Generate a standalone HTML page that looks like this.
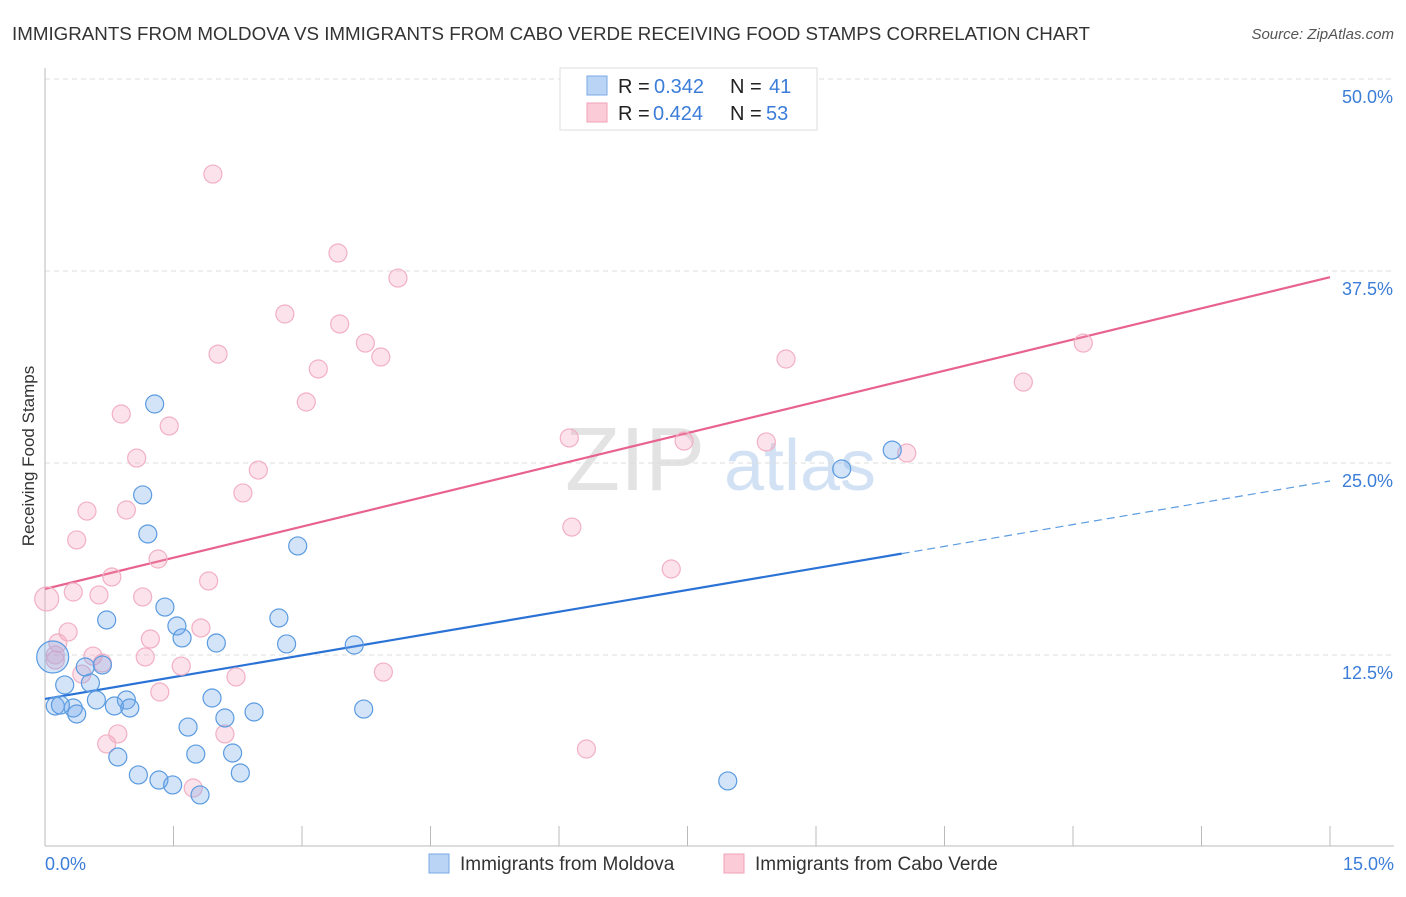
<!DOCTYPE html>
<html><head><meta charset="utf-8">
<style>
body{margin:0;background:#fff;font-family:"Liberation Sans",sans-serif;}
svg text{font-family:"Liberation Sans",sans-serif;}
</style></head>
<body>
<svg id="chart" width="1406" height="892" xmlns="http://www.w3.org/2000/svg">
<text x="12" y="40" font-size="18" fill="#333" textLength="1078" lengthAdjust="spacingAndGlyphs">IMMIGRANTS FROM MOLDOVA VS IMMIGRANTS FROM CABO VERDE RECEIVING FOOD STAMPS CORRELATION CHART</text>
<text x="1394" y="39" font-size="15" fill="#555" text-anchor="end" font-style="italic">Source: ZipAtlas.com</text>
<text transform="translate(34,456) rotate(-90)" font-size="17" fill="#333" text-anchor="middle">Receiving Food Stamps</text>
<g>
<text x="635" y="490" font-size="90" fill="#ddd" font-family="Liberation Serif" text-anchor="middle" opacity="0.8">ZIP</text>
<text x="800" y="490" font-size="72" fill="#c8dbf2" text-anchor="middle" opacity="0.8">atlas</text>
</g>
<g id="grid"></g>
<g id="axes"></g>
<g id="lines"></g>
<g id="points"></g>
<g>
<rect x="560" y="68" width="257" height="62" fill="#fff" stroke="#ddd"/>
<rect x="587" y="76" width="20" height="19" fill="#b9d4f5" stroke="#7aaae6"/>
<rect x="587" y="103" width="20" height="19" fill="#fbcbd8" stroke="#f0a0b8"/>
<text x="618" y="93" font-size="20" fill="#222">R =</text>
<text x="654" y="93" font-size="20" fill="#3b7dd8">0.342</text>
<text x="730" y="93" font-size="20" fill="#222">N =</text>
<text x="769" y="93" font-size="20" fill="#3b7dd8">41</text>
<text x="618" y="120" font-size="20" fill="#222">R =</text>
<text x="653" y="120" font-size="20" fill="#3b7dd8">0.424</text>
<text x="730" y="120" font-size="20" fill="#222">N =</text>
<text x="766" y="120" font-size="20" fill="#3b7dd8">53</text>
</g>
<g>
<rect x="429" y="854" width="20" height="19" fill="#b9d4f5" stroke="#7aaae6"/>
<text x="460" y="870" font-size="19" fill="#333">Immigrants from Moldova</text>
<rect x="724" y="854" width="20" height="19" fill="#fbcbd8" stroke="#f0a0b8"/>
<text x="755" y="870" font-size="19" fill="#333">Immigrants from Cabo Verde</text>
</g>
</svg>
<script>
const yTicks=[12.5,25,37.5,50];
const yTickLabels=["12.5%","25.0%","37.5%","50.0%"];
const xTicks=[0,1.5,3,4.5,6,7.5,9,10.5,12,13.5,15];
const xTickLabels=["0.0%","15.0%"];
const moldovaX=[1.28,1.14,1.20,2.95,0.72,1.40,2.73,1.54,1.60,2.00,2.82,3.61,0.67,0.47,0.23,0.53,0.09,0.60,0.95,1.95,0.12,0.33,0.81,0.99,0.37,2.44,3.72,2.10,1.67,0.85,1.76,2.19,1.09,2.28,1.33,1.49,1.81,7.97,9.30,9.89,0.18];
const moldovaY=[28.84,22.92,20.38,19.60,14.78,15.62,14.91,14.39,13.61,13.28,13.22,13.15,11.85,11.72,10.55,10.68,12.37,9.57,9.57,9.70,9.18,9.05,9.18,9.05,8.66,8.79,8.98,8.40,7.81,5.86,6.05,6.12,4.69,4.82,4.36,4.04,3.39,4.30,24.61,25.84,9.24];
const caboX=[1.96,3.42,4.12,2.80,3.44,3.74,2.02,3.92,3.19,3.05,0.89,1.45,1.07,2.49,2.31,0.95,0.49,0.37,1.32,0.78,1.91,0.02,0.33,0.63,1.14,1.82,0.27,1.23,0.15,0.56,1.17,0.67,1.59,0.12,2.23,3.95,0.43,1.34,0.72,0.85,2.10,1.73,6.12,7.46,8.42,10.06,6.15,7.31,6.32,8.65,11.42,12.12,0.12];
const caboY=[43.81,38.67,37.04,34.70,34.05,32.81,32.09,31.90,31.12,28.97,28.19,27.41,25.32,24.54,23.05,21.94,21.87,19.99,18.75,17.58,17.32,16.15,16.60,16.41,16.28,14.26,14.00,13.54,13.28,12.43,12.37,11.98,11.78,12.17,11.07,11.39,11.26,10.09,6.71,7.36,7.36,3.84,26.63,26.43,26.37,25.65,20.83,18.10,6.38,31.77,30.27,32.81,12.50];
const moldovaTrend=[9.64,23.83];
const moldovaSolidEnd=10.0;
const caboTrend=[16.8,37.1];

const NS="http://www.w3.org/2000/svg";
const X=v=>45+v/15*1285;
const Y=v=>847-v/12.5*192;
function mk(tag,attrs,parent){const e=document.createElementNS(NS,tag);for(const k in attrs)e.setAttribute(k,attrs[k]);document.getElementById(parent).appendChild(e);return e;}

yTicks.forEach((t,i)=>{
  const g=mk('line',{x1:45,x2:1394,y1:Y(t),y2:Y(t),stroke:'#ddd','stroke-dasharray':'5,4'},'grid');
  
  
  const l=mk('text',{x:1393,y:Y(t)+24,'font-size':18,fill:'#3b7dd8','text-anchor':'end'},'axes');
  l.textContent=yTickLabels[i];
  
  
});
const ax=mk('line',{x1:45,x2:45,y1:68,y2:846,stroke:'#bbb'},'axes');


const bx=mk('line',{x1:45,x2:1394,y1:846,y2:846,stroke:'#bbb'},'axes');


xTicks.forEach(t=>{
  const k=mk('line',{x1:X(t),x2:X(t),y1:826,y2:846,stroke:'#bbb'},'axes');
  
  
});
const xl0=mk('text',{x:45,y:870,'font-size':18,fill:'#3b7dd8'},'axes');
xl0.textContent=xTickLabels[0];


const xl1=mk('text',{x:1394,y:870,'font-size':18,fill:'#3b7dd8','text-anchor':'end'},'axes');
xl1.textContent=xTickLabels[1];



const mv=v=>moldovaTrend[0]+(moldovaTrend[1]-moldovaTrend[0])*v/15;
const cv=v=>caboTrend[0]+(caboTrend[1]-caboTrend[0])*v/15;

caboX.forEach((x,i)=>{
  const c=mk('circle',{cx:X(x),cy:Y(caboY[i]),r:i===21?12:9,fill:'rgba(245,150,180,0.28)',stroke:'#f2b0c4','stroke-width':1.2},'points');
  
  
});
moldovaX.forEach((x,i)=>{
  const c=mk('circle',{cx:X(x),cy:Y(moldovaY[i]),r:i===16?16:9,fill:'rgba(110,165,235,0.3)',stroke:'#5b9be0','stroke-width':1.2},'points');
  
  
});

const pl=mk('line',{x1:X(0),y1:Y(cv(0)),x2:X(15),y2:Y(cv(15)),stroke:'#e8628e','stroke-width':2.2},'lines');


const bl=mk('line',{x1:X(0),y1:Y(mv(0)),x2:X(moldovaSolidEnd),y2:Y(mv(moldovaSolidEnd)),stroke:'#2a72d6','stroke-width':2.2},'lines');


const bd=mk('line',{x1:X(moldovaSolidEnd),y1:Y(mv(moldovaSolidEnd)),x2:X(15),y2:Y(mv(15)),stroke:'#5b9be0','stroke-width':1.2,'stroke-dasharray':'8,5'},'lines');


</script>
</body></html>
